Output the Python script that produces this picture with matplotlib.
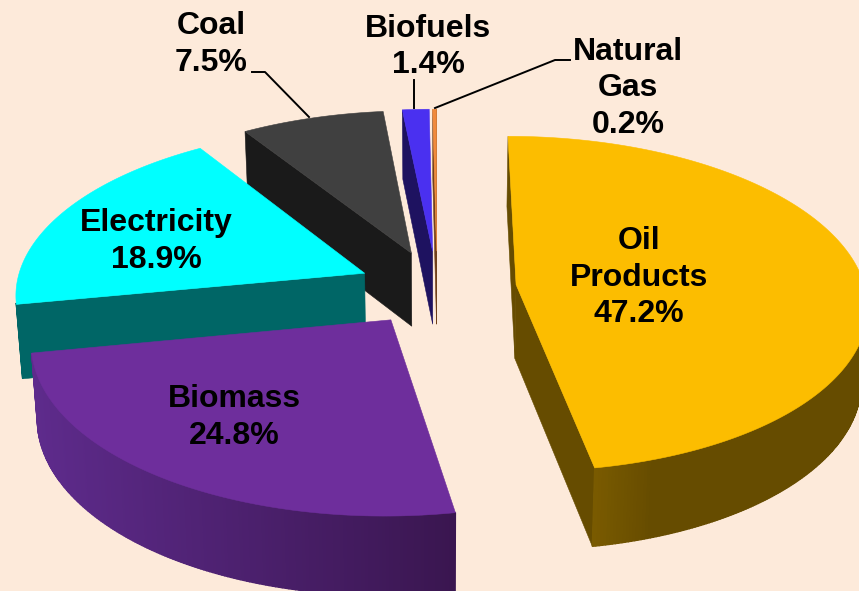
import numpy as np
import matplotlib

matplotlib.use('Agg')
import matplotlib.pyplot as plt
from matplotlib.colors import to_rgb

# Share of each fuel, clockwise starting at 12 o'clock
names = ['Oil\nProducts', 'Biomass', 'Electricity', 'Coal', 'Biofuels', 'Natural\nGas']
values = [47.2, 24.8, 18.9, 7.5, 1.4, 0.2]

top_colors = ['#FCBD00', '#6E2E9C', '#00FFFF', '#404040', '#4A30F0', '#F08A3C']
cut_colors = ['#664C00', '#3A1650', '#006666', '#1A1A1A', '#1E1260', '#70401A']
rim_start = ['#7A5B00', '#3A1650', '#006666', '#1A1A1A', '#1E1260', '#70401A']
rim_end = ['#664C00', '#5E2B8C', '#006666', '#1A1A1A', '#1E1260', '#70401A']

# Label centres in pixels
label_x = [639, 234, 156, 211, 428, 628]
label_y = [277.5, 417.5, 241.5, 44.5, 47, 88.5]

# Projection of the tilted pie onto the page
CX, CY = 437, 288
RX, RY = 349, 166
PERSP = 0.114
EXPLODE = 0.228
DEPTH = 74
SHRINK = 0.985
START_ANGLE = 0


def project(u, v):
    w = 1 / (1 - PERSP * v)
    x = CX + RX * u * w
    y = CY + RY * v * w
    return x, y, w


def lower(x, y, w):
    return CX + (x - CX) * SHRINK, y + DEPTH * np.sqrt(w)


def signed_area(px, py):
    return 0.5 * np.sum(px * np.roll(py, -1) - np.roll(px, -1) * py)


def draw_quad(ax, px, py, color, z, lw=0.4):
    px, py = np.array(px), np.array(py)
    if signed_area(px, py) < 0:
        ax.fill(px, py, color=color, lw=lw, zorder=z)


fig = plt.figure(figsize=(8.59, 5.91), dpi=100, facecolor='#FDEADA')
ax = fig.add_axes([0, 0, 1, 1])
ax.set_xlim(0, 859)
ax.set_ylim(591, 0)
ax.axis('off')

edges = START_ANGLE + np.concatenate([[0], np.cumsum(values)]) / sum(values) * 360
# back slices first so the front ones paint over them
order = [5, 4, 3, 2, 0, 1]

for z, i in enumerate(order):
    a0, a1 = np.radians(edges[i]), np.radians(edges[i + 1])
    mid = (a0 + a1) / 2
    off_u, off_v = EXPLODE * np.sin(mid), -EXPLODE * np.cos(mid)

    angles = np.linspace(a0, a1, max(int(np.degrees(a1 - a0) * 2), 3))
    tx, ty, tw = project(off_u + np.sin(angles), off_v - np.cos(angles))
    bx, by = lower(tx, ty, tw)
    ax_, ay_, aw_ = project(off_u, off_v)
    abx, aby = lower(ax_, ay_, aw_)

    base = z * 3 + 2
    # cut faces
    draw_quad(ax, [ax_, tx[0], bx[0], abx], [ay_, ty[0], by[0], aby], cut_colors[i], base)
    draw_quad(ax, [tx[-1], ax_, abx, bx[-1]], [ty[-1], ay_, aby, by[-1]], cut_colors[i], base)

    # outer rim, shaded along the arc
    c0, c1 = np.array(to_rgb(rim_start[i])), np.array(to_rgb(rim_end[i]))
    if i == 1:
        # biomass gets darker towards the right edge
        shade = 1 - np.clip((tx - tx.min()) / (tx.max() - tx.min()), 0, 1)
    elif i == 0:
        # oil only lightens close to its front corner
        shade = np.clip((tx - tx[-1]) / 60, 0, 1)
    else:
        shade = np.zeros(len(tx))
    for k in range(len(angles) - 1):
        col = c0 + (c1 - c0) * shade[k]
        draw_quad(ax, [tx[k], tx[k + 1], bx[k + 1], bx[k]],
                  [ty[k], ty[k + 1], by[k + 1], by[k]], col, base + 1, lw=1.0)

    # top surface
    ax.fill(np.r_[ax_, tx], np.r_[ay_, ty], color=top_colors[i], lw=0.4, zorder=base + 2)

# leader lines for the small slices
ax.plot([252, 265, 309], [72, 72, 117], color='black', lw=1.4, zorder=30)
ax.plot([570, 555, 435], [60, 60, 108], color='black', lw=1.4, zorder=30)
ax.plot([414, 414], [80, 108], color='black', lw=1.4, zorder=30)

for name, val, lx, ly in zip(names, values, label_x, label_y):
    ax.text(lx, ly, f'{name}\n{val}%', ha='center', va='center', fontsize=23,
            fontweight='bold', family='Liberation Sans', linespacing=1.27, color='black', zorder=40)

fig.savefig('out.png', dpi=100, facecolor=fig.get_facecolor())
